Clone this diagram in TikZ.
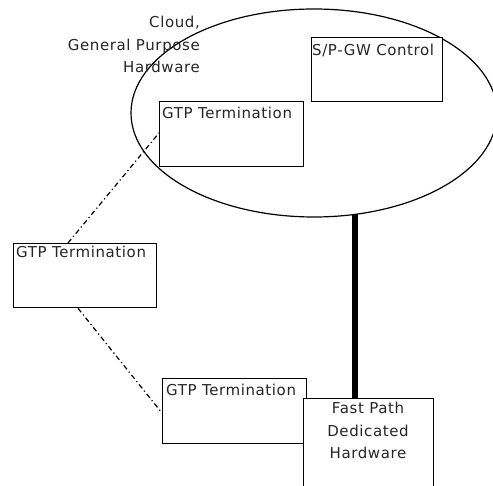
\documentclass[tikz,border=0pt]{standalone}
\usepackage{fontspec}
\setmainfont{DejaVu Sans}[LetterSpace=4]
\usetikzlibrary{shapes.geometric,calc}
\begin{document}
\begin{tikzpicture}[x=1pt,y=-1pt,
  every node/.style={font=\fontsize{15}{22.5}\selectfont,text=black!85},
  box/.style={draw,line width=1.3pt,rectangle,inner sep=0pt,anchor=north west},
  lbl/.style={anchor=base west,inner sep=0pt},
  dashdot/.style={line width=1.2pt,dash pattern=on 5pt off 3pt on 1.2pt off 3pt}]
\useasboundingbox (0,0) rectangle (493,486);
\node[draw,ellipse,line width=1.2pt,minimum width=366pt,minimum height=208pt,inner sep=0pt] (cloud) at (314,113) {};
\node[align=right,anchor=north east,inner sep=0pt] (cloudlbl) at (200,16) {Cloud,\\General Purpose\\Hardware};
\node[box,fill=white,minimum width=131pt,minimum height=64pt] (spgw) at (311,37) {};
\node[lbl] at (312,56) {S/P-GW Control};
\node[box,fill=white,minimum width=144pt,minimum height=65pt] (igtp) at (159,101) {};
\node[lbl] at (162,119) {GTP Termination};
\node[box,fill=white,minimum width=143pt,minimum height=64pt] (lgtp) at (13,243) {};
\node[lbl] at (16,258) {GTP Termination};
\node[box,fill=white,minimum width=144pt,minimum height=65pt] (bgtp) at (162,378) {};
\node[lbl] at (166,396) {GTP Termination};
\node[box,fill=white,minimum width=130pt,minimum height=110pt] (fast) at (303,398) {};
\node[anchor=north,align=center,inner sep=0pt] (fastlbl) at (368,402) {Fast Path\\Dedicated\\Hardware};
\coordinate (tb) at (355,214);
\draw[line width=5.5pt] (tb) -- (tb |- fast.north);
\draw[dashdot] ($(lgtp.north west)+(55,0)$) -- ($(igtp.north west)+(0,32)$);
\draw[dashdot] ($(lgtp.south west)+(65,0)$) -- ($(bgtp.north west)+(0,35)$);
\end{tikzpicture}
\end{document}
